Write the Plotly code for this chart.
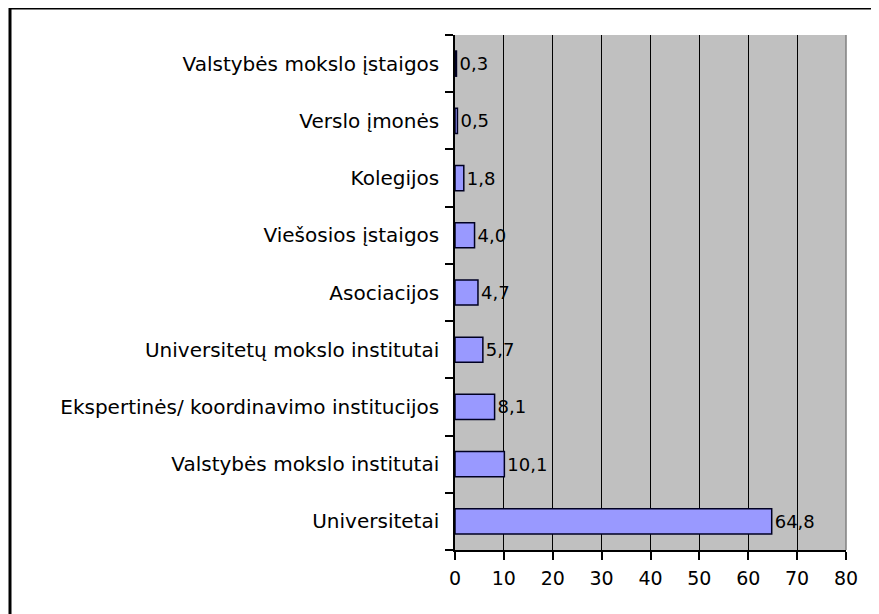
import plotly.graph_objects as go

# Categories (bottom to top) and shares, %
categories = [
    "Universitetai",
    "Valstybės mokslo institutai",
    "Ekspertinės/ koordinavimo institucijos",
    "Universitetų mokslo institutai",
    "Asociacijos",
    "Viešosios įstaigos",
    "Kolegijos",
    "Verslo įmonės",
    "Valstybės mokslo įstaigos",
]
values = [64.8, 10.1, 8.1, 5.7, 4.7, 4.0, 1.8, 0.5, 0.3]
x_ticks = [0, 10, 20, 30, 40, 50, 60, 70, 80]

font_family = "DejaVu Sans, Arial, sans-serif"

fig = go.Figure(
    go.Bar(
        x=values,
        y=categories,
        orientation="h",
        width=0.44,
        marker=dict(color="#9999FF", line=dict(color="#000022", width=1.5)),
        texttemplate="%{x:.1f}",
        textposition="outside",
        textfont=dict(color="black", size=18, family=font_family),
        cliponaxis=False,
        hoverinfo="skip",
    )
)

# page body has an 8px margin, so the figure is offset by 8px
off = 8
W, H = 879 - off, 614 - off
ml, mr, mt, mb = 455 - off, 33, 35 - off, 64
pw, ph = W - ml - mr, H - mt - mb

fig.update_layout(
    width=W,
    height=H,
    margin=dict(l=ml, r=mr, t=mt, b=mb),
    paper_bgcolor="white",
    plot_bgcolor="#C0C0C0",
    separators=",.",
    showlegend=False,
    font=dict(family=font_family, size=18, color="black"),
)

fig.update_xaxes(
    range=[0, 80],
    tickvals=x_ticks,
    showgrid=True,
    gridcolor="black",
    gridwidth=1,
    zeroline=False,
    showline=True,
    linecolor="black",
    linewidth=1.5,
    ticks="outside",
    ticklen=8,
    tickcolor="black",
    tickwidth=1.5,
    ticklabelstandoff=2,
    tickfont=dict(size=19),
)
fig.update_yaxes(
    categoryorder="array",
    categoryarray=categories,
    tickson="boundaries",
    showgrid=False,
    showline=True,
    linecolor="black",
    linewidth=1.5,
    ticks="outside",
    ticklen=8,
    tickcolor="black",
    tickwidth=1.5,
    ticklabelstandoff=10,
    tickfont=dict(size=20),
)

# Gray right edge of plot area
fig.add_shape(
    type="line", xref="paper", yref="paper", x0=1, x1=1, y0=0, y1=1,
    line=dict(color="#808080", width=1.5),
)

# Outer chart frame (right and bottom run off the image)
fig.add_shape(
    type="rect", xref="paper", yref="paper",
    x0=(10 - off - ml) / pw, x1=2, y0=-1, y1=1 + mt / ph,
    line=dict(color="black", width=3),
)

fig.write_html("out.html")
